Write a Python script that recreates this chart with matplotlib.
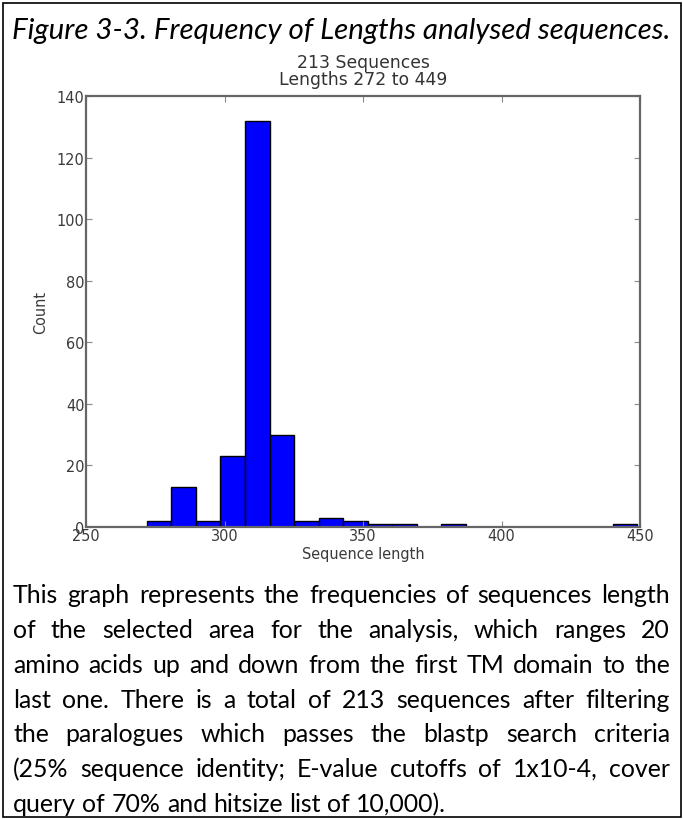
import numpy as np
import matplotlib
matplotlib.use("Agg")
import matplotlib.pyplot as plt
from matplotlib.patches import Rectangle

# histogram data (20 bins from 272 to 449)
bin_edges = np.linspace(272, 449, 21)
counts = [2, 13, 2, 23, 132, 30, 2, 3, 2, 1, 1, 0, 1, 0, 0, 0, 0, 0, 0, 1]

x_ticks = [250, 300, 350, 400, 450]
y_ticks = [0, 20, 40, 60, 80, 100, 120, 140]

fig_title = "Figure 3-3. Frequency of Lengths analysed sequences."
chart_title = ["213 Sequences", "Lengths 272 to 449"]
caption_lines = [
    "This graph represents the frequencies of sequences length",
    "of the selected area for the analysis, which ranges 20",
    "amino acids up and down from the first TM domain to the",
    "last one. There is a total of 213 sequences after filtering",
    "the paralogues which passes the blastp search criteria",
    "(25% sequence identity; E-value cutoffs of 1x10-4, cover",
    "query of 70% and hitsize list of 10,000).",
]

W, H = 683, 820
fig = plt.figure(figsize=(W / 100, H / 100), dpi=100)
renderer = fig.canvas.get_renderer()


def text_width(s, **kw):
    tt = fig.text(0, 0, s, **kw)
    w = tt.get_window_extent(renderer).width
    tt.remove()
    return w


def fit_size(s, target, **kw):
    return 10 * target / text_width(s, fontsize=10, **kw)


# outer frame
fig.patches.append(Rectangle((3 / W, 2 / H), 678 / W, 814 / H, transform=fig.transFigure,
                             fill=False, edgecolor="black", linewidth=1.2))

# ---- chart ----
left, right, top, bottom = 86, 640, 97, 528
ax = fig.add_axes([left / W, 1 - bottom / H, (right - left) / W, (bottom - top) / H])
ax.bar(bin_edges[:-1], counts, width=np.diff(bin_edges), align="edge",
       color="#0000ff", edgecolor="black", linewidth=1.0)
ax.set_xlim(250, 450)
ax.set_ylim(0, 140)
ax.set_xticks(x_ticks)
ax.set_yticks(y_ticks)
for s in ax.spines.values():
    s.set_color("#666666")
    s.set_linewidth(1.6)
tick_fs = fit_size("Sequence length", 122)
ax.tick_params(direction="in", top=True, right=True, length=4, width=0.8,
               colors="#888888", labelcolor="#3a3a3a", labelsize=tick_fs, pad=1)
ax.set_xlabel("Sequence length", fontsize=tick_fs, color="#3a3a3a", labelpad=2)
ax.set_ylabel("Count", fontsize=tick_fs, color="#3a3a3a", labelpad=6)

title_fs = fit_size(chart_title[1], 168)
fig.text(0.5 * (left + right) / W, 1 - 63 / H, chart_title[0], ha="center", va="center",
         fontsize=title_fs, color="#333333")
fig.text(0.5 * (left + right) / W, 1 - 80 / H, chart_title[1], ha="center", va="center",
         fontsize=title_fs, color="#333333")

# ---- figure heading ----
head_fs = fit_size(fig_title, 658, family="Lato", style="italic")
fig.text(0.5, 1 - 31 / H, fig_title, ha="center", va="center",
         family="Lato", style="italic", fontsize=head_fs)

# ---- justified caption ----
x0, x1 = 13, 670
fs = fit_size(caption_lines[0], 640, family="Lato")
space_w = text_width("a b", family="Lato", fontsize=fs) - text_width("ab", family="Lato", fontsize=fs)

y = 596
for i, line in enumerate(caption_lines):
    words = line.split(" ")
    widths = [text_width(wd, family="Lato", fontsize=fs) for wd in words]
    if i < len(caption_lines) - 1:
        gap = (x1 - x0 - sum(widths)) / (len(words) - 1)
    else:
        gap = space_w
    xx = x0
    for wd, wl in zip(words, widths):
        fig.text(xx / W, 1 - y / H, wd, family="Lato", fontsize=fs, va="center", ha="left")
        xx += wl + gap
    y += 34.7

fig.savefig("out.png", dpi=100)
